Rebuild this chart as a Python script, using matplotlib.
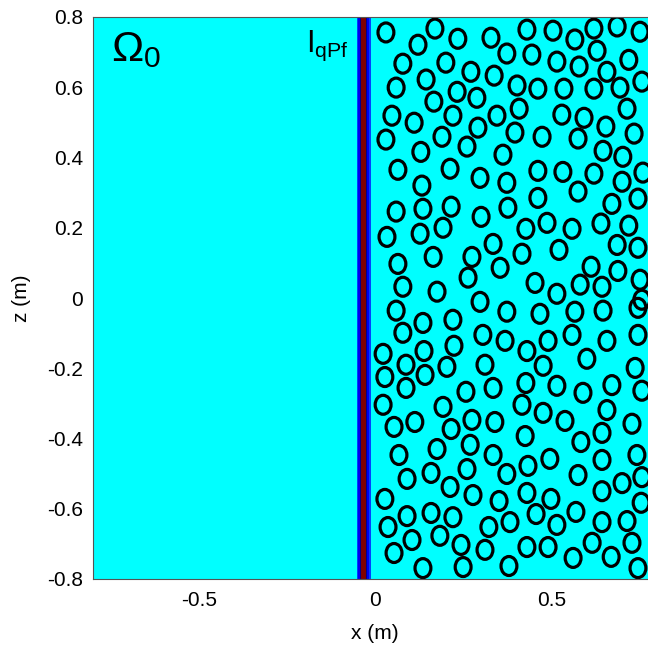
import matplotlib
matplotlib.use("Agg")
import matplotlib.pyplot as plt
from matplotlib.patches import Ellipse

plt.rcParams['font.family'] = ['Liberation Sans', 'DejaVu Sans']
plt.rcParams['mathtext.fontset'] = 'custom'
plt.rcParams['mathtext.rm'] = 'Liberation Sans'
plt.rcParams['mathtext.it'] = 'Liberation Sans'

# centres of the scatterers (x, z in metres)
cx = [0.031, 0.170, 0.122, 0.235, 0.329, 0.374, 0.079, 0.201, 0.272, 0.338,
      0.145, 0.060, 0.233, 0.289, 0.167, 0.048, 0.111, 0.221, 0.346, 0.292,
      0.031, 0.190, 0.261, 0.130, 0.363, 0.431, 0.505, 0.567, 0.621, 0.687,
      0.752, 0.445, 0.516, 0.630, 0.579, 0.720, 0.658, 0.403, 0.462, 0.536,
      0.621, 0.695, 0.757, 0.409, 0.530, 0.593, 0.715, 0.655, 0.397, 0.474,
      0.576, 0.735, 0.647, 0.703, 0.065, 0.213, 0.298, 0.133, 0.374, 0.060,
      0.136, 0.216, 0.301, 0.377, 0.034, 0.128, 0.193, 0.335, 0.165, 0.275,
      0.065, 0.355, 0.264, 0.079, 0.176, 0.298, 0.462, 0.533, 0.621, 0.701,
      0.760, 0.462, 0.576, 0.672, 0.746, 0.428, 0.488, 0.559, 0.641, 0.720,
      0.417, 0.522, 0.687, 0.746, 0.613, 0.689, 0.752, 0.454, 0.516, 0.582,
      0.644, 0.757, 0.060, 0.136, 0.221, 0.374, 0.079, 0.306, 0.369, 0.139,
      0.224, 0.023, 0.088, 0.204, 0.312, 0.028, 0.142, 0.088, 0.258, 0.335,
      0.023, 0.193, 0.054, 0.113, 0.216, 0.275, 0.340, 0.176, 0.270, 0.468,
      0.567, 0.647, 0.746, 0.431, 0.491, 0.559, 0.658, 0.746, 0.477, 0.601,
      0.738, 0.428, 0.516, 0.590, 0.672, 0.757, 0.417, 0.477, 0.539, 0.658,
      0.729, 0.426, 0.584, 0.644, 0.068, 0.335, 0.374, 0.091, 0.159, 0.261,
      0.213, 0.028, 0.278, 0.352, 0.091, 0.159, 0.221, 0.037, 0.323, 0.383,
      0.105, 0.184, 0.244, 0.054, 0.312, 0.136, 0.250, 0.380, 0.434, 0.496,
      0.576, 0.644, 0.743, 0.701, 0.757, 0.431, 0.499, 0.644, 0.755, 0.457,
      0.570, 0.516, 0.644, 0.715, 0.431, 0.491, 0.616, 0.729, 0.562, 0.670,
      0.746]
cz = [0.756, 0.767, 0.721, 0.738, 0.741, 0.696, 0.667, 0.670, 0.644, 0.633,
      0.622, 0.599, 0.587, 0.570, 0.559, 0.519, 0.499, 0.519, 0.519, 0.485,
      0.451, 0.459, 0.431, 0.416, 0.408, 0.764, 0.761, 0.736, 0.767, 0.773,
      0.758, 0.693, 0.673, 0.704, 0.659, 0.678, 0.644, 0.605, 0.596, 0.596,
      0.596, 0.599, 0.616, 0.539, 0.522, 0.513, 0.539, 0.488, 0.471, 0.459,
      0.454, 0.468, 0.419, 0.402, 0.365, 0.368, 0.342, 0.320, 0.328, 0.246,
      0.254, 0.260, 0.231, 0.257, 0.174, 0.183, 0.200, 0.154, 0.117, 0.117,
      0.097, 0.086, 0.058, 0.032, 0.018, -0.011, 0.362, 0.359, 0.354, 0.331,
      0.357, 0.285, 0.303, 0.268, 0.283, 0.197, 0.214, 0.197, 0.212, 0.206,
      0.126, 0.137, 0.151, 0.143, 0.089, 0.077, 0.052, 0.043, 0.012, 0.038,
      0.032, -0.005, -0.036, -0.071, -0.062, -0.039, -0.099, -0.105, -0.122, -0.151,
      -0.136, -0.159, -0.190, -0.196, -0.190, -0.225, -0.219, -0.256, -0.267, -0.256,
      -0.304, -0.310, -0.367, -0.353, -0.373, -0.347, -0.353, -0.430, -0.418, -0.045,
      -0.039, -0.036, -0.028, -0.151, -0.122, -0.105, -0.122, -0.105, -0.193, -0.173,
      -0.199, -0.242, -0.250, -0.270, -0.248, -0.264, -0.304, -0.327, -0.350, -0.319,
      -0.358, -0.393, -0.410, -0.384, -0.447, -0.447, -0.501, -0.515, -0.498, -0.487,
      -0.538, -0.572, -0.561, -0.578, -0.621, -0.612, -0.624, -0.652, -0.652, -0.638,
      -0.689, -0.677, -0.703, -0.726, -0.717, -0.769, -0.766, -0.763, -0.478, -0.458,
      -0.504, -0.461, -0.447, -0.527, -0.510, -0.555, -0.572, -0.550, -0.583, -0.615,
      -0.609, -0.646, -0.638, -0.635, -0.709, -0.709, -0.697, -0.697, -0.740, -0.737,
      -0.769]

# layered interface strip (left edge, right edge, colour)
band_left = [-0.051, -0.048, -0.043, -0.040, -0.026, -0.023, -0.017]
band_right = [-0.048, -0.043, -0.040, -0.026, -0.023, -0.017, -0.011]
band_colors = ['#0040ff', '#0000f0', '#00008a', '#800000', '#00008a', '#0000f0', '#0040ff']

xticks = [-0.5, 0, 0.5]
zticks = [-0.8, -0.6, -0.4, -0.2, 0, 0.2, 0.4, 0.6, 0.8]

fig = plt.figure(figsize=(6.48, 6.55), dpi=100)
ax = fig.add_axes([93 / 648, 76 / 655, 564 / 648, 562 / 655])
ax.set_facecolor('#00ffff')

for l, r, c in zip(band_left, band_right, band_colors):
    ax.axvspan(l, r, color=c, lw=0)

for x, z in zip(cx, cz):
    ax.add_patch(Ellipse((x, z), 0.045, 0.054, fill=False, ec='black', lw=2.3))

ax.set_xlim(-0.8, 0.8)
ax.set_ylim(-0.8, 0.8)
ax.set_xticks(xticks)
ax.set_xticklabels(['-0.5', '0', '0.5'])
ax.set_yticks(zticks)
ax.set_yticklabels(['-0.8', '-0.6', '-0.4', '-0.2', '0', '0.2', '0.4', '0.6', '0.8'])
ax.tick_params(direction='in', labelsize=15, length=0)
ax.tick_params(axis='x', pad=9)
ax.tick_params(axis='y', pad=7)
ax.set_xlabel('x (m)', fontsize=15, labelpad=10)
ax.set_ylabel('z (m)', fontsize=15, labelpad=12)
for s in ax.spines.values():
    s.set_color('#555555')

ax.text(-0.75, 0.675, r'$\Omega_0$', fontsize=31)
ax.text(-0.195, 0.7, r'$\mathregular{I_{qPf}}$', fontsize=22)

plt.savefig('out.png', dpi=100)
